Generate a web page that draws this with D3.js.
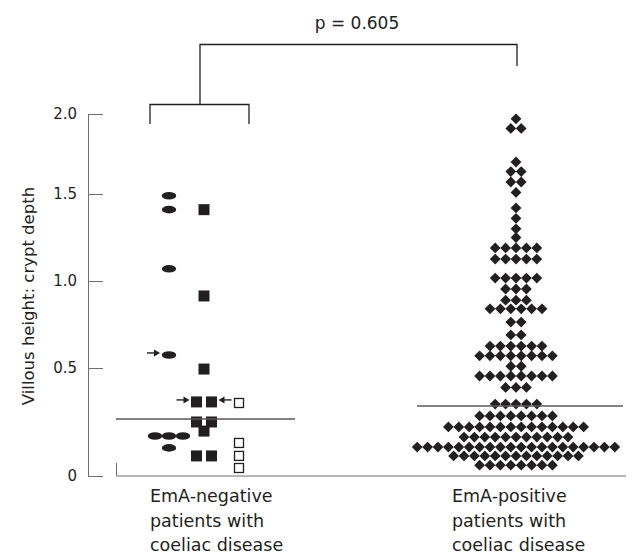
<!DOCTYPE html>
<html>
<head>
<meta charset="utf-8">
<script src="https://cdn.jsdelivr.net/npm/d3@7"></script>
<style>
  body { margin: 0; background: #fff; }
  svg text { font-family: "DejaVu Sans", sans-serif; fill: #231f20; }
</style>
</head>
<body>
<svg width="634" height="554"></svg>
<script>
// groups on the x axis
const groups = ["neg", "pos"];
const groupLabels = [
  ["EmA-negative", "patients with", "coeliac disease"],
  ["EmA-positive", "patients with", "coeliac disease"]
];

// y ticks
const yTicks = [0, 0.5, 1.0, 1.5, 2.0];
const yTickLabels = ["0", "0.5", "1.0", "1.5", "2.0"];

// EmA-negative: three kinds of marker
const negEllipse = [1.49, 1.41, 1.07, 0.575, 0.185, 0.185, 0.185, 0.13];
const negFilled = [1.41, 0.914, 0.495, 0.343, 0.343, 0.25, 0.25, 0.208, 0.093, 0.093];
const negOpen = [0.338, 0.153, 0.093, 0.037];

// EmA-positive: one row of diamonds per value
const posValues = [1.97, 1.91, 1.70, 1.64, 1.575, 1.51, 1.42, 1.36, 1.30, 1.25,
  1.19, 1.126, 1.017, 0.954, 0.89, 0.84, 0.764, 0.69, 0.626, 0.57,
  0.51, 0.463, 0.41, 0.333, 0.278, 0.227, 0.18, 0.134, 0.093, 0.05];
const posCounts = [1, 2, 1, 2, 2, 1, 1, 1, 1, 1,
  5, 5, 5, 3, 3, 6, 2, 2, 6, 8,
  2, 8, 3, 5, 8, 14, 11, 20, 13, 8];

const medians = [0.264, 0.324];
const pValue = "p = 0.605";

const svg = d3.select("svg");

// the original axis is not evenly spaced, so a piecewise scale
const y = d3.scaleLinear()
  .domain(yTicks)
  .range([476, 368, 281, 194, 114]);

const x = d3.scalePoint()
  .domain(groups)
  .range([204, 516]);

// y axis, ticks pointing inward
const yAxis = d3.axisLeft(y)
  .tickValues(yTicks)
  .tickFormat((d, i) => yTickLabels[i])
  .tickSizeInner(-15)
  .tickSizeOuter(0)
  .tickPadding(11);

const ya = svg.append("g")
  .attr("transform", "translate(88,0)")
  .call(yAxis);
ya.select(".domain").attr("stroke", "#6d6e71");
ya.selectAll(".tick line").attr("stroke", "#6d6e71");
ya.selectAll(".tick text")
  .attr("font-size", 15)
  .style("font-family", '"DejaVu Sans", sans-serif');

svg.append("text")
  .attr("transform", "translate(34,296) rotate(-90)")
  .attr("text-anchor", "middle")
  .attr("font-size", 16.5)
  .text("Villous height: crypt depth");

// x axis line with small tick at its left end
const xa = svg.append("g").attr("class", "x-axis");
xa.append("line")
  .attr("x1", 116.5).attr("x2", 626)
  .attr("y1", y(0)).attr("y2", y(0))
  .attr("stroke", "#6d6e71");
xa.append("line")
  .attr("x1", 116.5).attr("x2", 116.5)
  .attr("y1", y(0) - 13).attr("y2", y(0))
  .attr("stroke", "#6d6e71");

groupLabels.forEach(function(lines, i) {
  const t = svg.append("text")
    .attr("x", i === 0 ? 150 : 452)
    .attr("y", 502)
    .attr("font-size", 17.5);
  lines.forEach(function(l, j) {
    t.append("tspan")
      .attr("x", i === 0 ? 150 : 452)
      .attr("dy", j === 0 ? 0 : 24.5)
      .text(l);
  });
});

// spread equal values side by side around a centre
function dodge(values, cx, step) {
  const seen = {};
  values.forEach(v => seen[v] = (seen[v] || 0) + 1);
  const used = {};
  return values.map(function(v) {
    const n = seen[v];
    const k = used[v] = (used[v] || 0) + 1;
    return { v: v, x: cx + (k - 1 - (n - 1) / 2) * step };
  });
}

const g = svg.append("g");

g.selectAll(".ell")
  .data(dodge(negEllipse, x("neg") - 35, 14))
  .enter().append("ellipse")
  .attr("class", "ell")
  .attr("cx", d => d.x)
  .attr("cy", d => y(d.v))
  .attr("rx", 7.2)
  .attr("ry", 3.8)
  .attr("fill", "#231f20");

g.selectAll(".sq")
  .data(dodge(negFilled, x("neg"), 15))
  .enter().append("rect")
  .attr("class", "sq")
  .attr("x", d => d.x - 5.5)
  .attr("y", d => y(d.v) - 5.5)
  .attr("width", 11)
  .attr("height", 11)
  .attr("fill", "#231f20");

g.selectAll(".osq")
  .data(dodge(negOpen, x("neg") + 35, 12))
  .enter().append("rect")
  .attr("class", "osq")
  .attr("x", d => d.x - 4.5)
  .attr("y", d => y(d.v) - 4.5)
  .attr("width", 9)
  .attr("height", 9)
  .attr("fill", "#fff")
  .attr("stroke", "#231f20")
  .attr("stroke-width", 1.3);

// diamonds, one row per value
const diamonds = [];
posValues.forEach(function(v, i) {
  const n = posCounts[i];
  for (let k = 0; k < n; k++) {
    diamonds.push({ v: v, x: x("pos") + (k - (n - 1) / 2) * 10.4 });
  }
});

g.selectAll(".dia")
  .data(diamonds)
  .enter().append("path")
  .attr("class", "dia")
  .attr("d", d3.symbol(d3.symbolSquare, 58))
  .attr("transform", d => `translate(${d.x},${y(d.v)}) rotate(45)`)
  .attr("fill", "#231f20");

// arrows pointing at selected patients
const arrows = [
  { x: x("neg") - 35 - 9, v: 0.575, dir: 1 },
  { x: x("neg") - 7.5 - 7, v: 0.343, dir: 1 },
  { x: x("neg") + 7.5 + 7, v: 0.343, dir: -1 }
];
arrows.forEach(function(a) {
  const yy = y(a.v) - 2;
  const tipX = a.x;
  const tailX = a.x - a.dir * 13;
  g.append("line")
    .attr("x1", tailX).attr("x2", tipX - a.dir * 4)
    .attr("y1", yy).attr("y2", yy)
    .attr("stroke", "#231f20").attr("stroke-width", 1.4);
  g.append("path")
    .attr("d", `M${tipX},${yy}L${tipX - a.dir * 6},${yy - 3.5}L${tipX - a.dir * 6},${yy + 3.5}Z`)
    .attr("fill", "#231f20");
});

// median lines
const medianExtent = [[116, 295], [417, 623]];
medians.forEach(function(m, i) {
  svg.append("line")
    .attr("x1", medianExtent[i][0]).attr("x2", medianExtent[i][1])
    .attr("y1", y(m)).attr("y2", y(m))
    .attr("stroke", "#58595b")
    .attr("stroke-width", 1.3);
});

// significance brackets
const br = svg.append("g")
  .attr("fill", "none")
  .attr("stroke", "#231f20")
  .attr("stroke-width", 1.3);
br.append("path").attr("d", "M150,124V104.5H249V124");
br.append("path").attr("d", "M200,104.5V44.5H517V66");

svg.append("text")
  .attr("x", 357)
  .attr("y", 29)
  .attr("text-anchor", "middle")
  .attr("font-size", 17)
  .text(pValue);
</script>
</body>
</html>
